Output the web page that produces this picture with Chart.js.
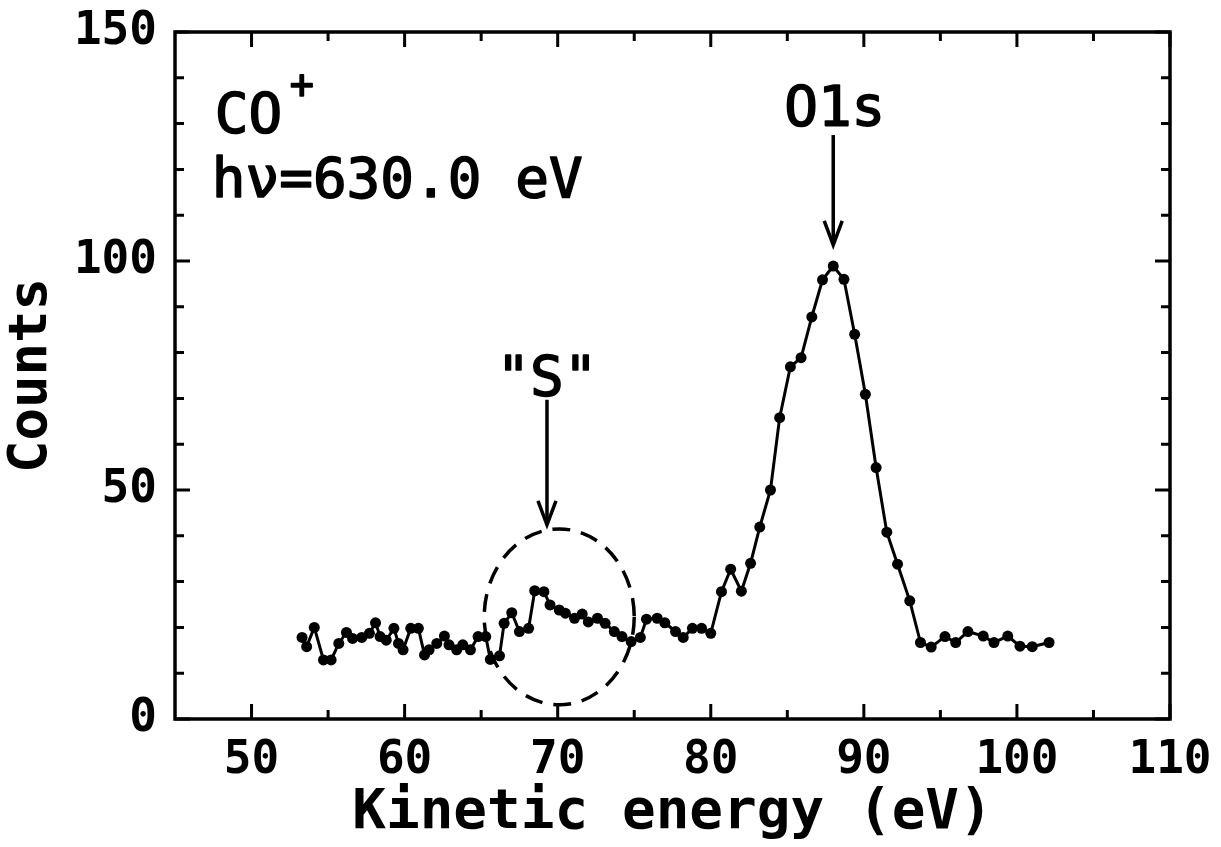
<!DOCTYPE html>
<html>
<head>
<meta charset="utf-8">
<script src="https://cdn.jsdelivr.net/npm/chart.js@4.4.0/dist/chart.umd.min.js"></script>
<style>
  html, body { margin: 0; padding: 0; background: #fff; }
</style>
</head>
<body>
<canvas id="spectrum" width="1221" height="847"></canvas>
<script>
// kinetic energy (eV) of each measured point
const energy = [53.3, 53.6, 54.1, 54.7, 55.2, 55.7, 56.2, 56.6, 57.2, 57.7, 58.1, 58.4, 58.8, 59.3, 59.6, 59.9,
  60.4, 60.9, 61.3, 61.6, 62.1, 62.6, 62.9, 63.4, 63.8, 64.3, 64.8, 65.3, 65.6, 66.2, 66.5, 67.0, 67.5, 68.1,
  68.5, 69.1, 69.5, 70.1, 70.5, 71.1, 71.6, 72.0, 72.6, 73.1, 73.7, 74.2, 74.8, 75.4, 75.8, 76.5, 77.0, 77.7,
  78.2, 78.8, 79.4, 80.0, 80.7, 81.3, 82.0, 82.6, 83.2, 83.9, 84.5, 85.2, 85.9, 86.6, 87.3, 88.0, 88.7, 89.4,
  90.1, 90.8, 91.5, 92.2, 93.0, 93.7, 94.4, 95.3, 96.0, 96.8, 97.8, 98.5, 99.4, 100.2, 101.0, 102.1];

// counts at each point
const counts = [17.8, 15.8, 20.0, 12.9, 12.9, 16.5, 18.9, 17.6, 17.8, 18.7, 21.0, 18.0, 17.2, 19.8, 16.5, 15.1,
  19.8, 19.8, 14.0, 15.1, 16.5, 18.1, 16.2, 15.1, 16.2, 15.1, 18.0, 18.0, 13.0, 13.8, 20.9, 23.2, 19.1, 19.8,
  28.0, 27.8, 24.9, 23.8, 23.1, 22.0, 22.9, 21.2, 22.0, 20.9, 19.1, 18.0, 16.9, 17.8, 21.8, 22.0, 21.0, 19.1,
  17.8, 19.8, 19.8, 18.7, 27.8, 32.7, 27.9, 34.0, 41.9, 50.0, 65.8, 76.9, 78.9, 87.8, 95.9, 98.9, 96.0, 84.0,
  70.9, 54.9, 40.8, 33.8, 25.8, 16.7, 15.7, 18.0, 16.7, 19.1, 18.1, 16.7, 18.1, 15.9, 15.8, 16.7];

const xTickLabels = [50, 60, 70, 80, 90, 100, 110];
const xMinorTicks = [55, 65, 75, 85, 95, 105];
const yTickLabels = [0, 50, 100, 150];
const yMinorTicks = [10, 20, 30, 40, 60, 70, 80, 90, 110, 120, 130, 140];

const FONT = "'DejaVu Sans Mono', 'Liberation Mono', monospace";

// frame, inward ticks, dashed ring round the "S" feature, arrows and labels
const framePlugin = {
  id: 'framePlugin',
  afterDatasetsDraw(chart) {
    const ctx = chart.ctx;
    const a = chart.chartArea;
    const x = chart.scales.x, y = chart.scales.y;
    ctx.save();
    ctx.strokeStyle = '#000';
    ctx.fillStyle = '#000';
    ctx.lineWidth = 3.5;
    ctx.strokeRect(a.left, a.top, a.right - a.left, a.bottom - a.top);

    ctx.lineWidth = 3;
    ctx.beginPath();
    function xTick(v, len) {
      const px = x.getPixelForValue(v);
      ctx.moveTo(px, a.bottom); ctx.lineTo(px, a.bottom - len);
      ctx.moveTo(px, a.top); ctx.lineTo(px, a.top + len);
    }
    function yTick(v, len) {
      const py = y.getPixelForValue(v);
      ctx.moveTo(a.left, py); ctx.lineTo(a.left + len, py);
      ctx.moveTo(a.right, py); ctx.lineTo(a.right - len, py);
    }
    xTickLabels.forEach(v => xTick(v, 15));
    xMinorTicks.forEach(v => xTick(v, 9));
    yTickLabels.forEach(v => yTick(v, 15));
    yMinorTicks.forEach(v => yTick(v, 9));
    ctx.stroke();

    // dashed ellipse
    const cx = x.getPixelForValue(70.1), cy = y.getPixelForValue(22.3);
    const rx = x.getPixelForValue(75.0) - cx, ry = cy - y.getPixelForValue(41.5);
    ctx.setLineDash([18, 11]);
    ctx.lineWidth = 3.5;
    ctx.beginPath();
    ctx.ellipse(cx, cy, rx, ry, 0, 0, Math.PI * 2);
    ctx.stroke();
    ctx.setLineDash([]);

    function arrow(xv, y0, y1) {
      const px = x.getPixelForValue(xv);
      const p0 = y.getPixelForValue(y0), p1 = y.getPixelForValue(y1);
      ctx.lineWidth = 3.5;
      ctx.beginPath();
      ctx.moveTo(px, p0); ctx.lineTo(px, p1 - 4);
      ctx.stroke();
      ctx.beginPath();
      ctx.moveTo(px - 9, p1 - 24); ctx.lineTo(px, p1); ctx.lineTo(px + 9, p1 - 24);
      ctx.stroke();
    }
    arrow(88.0, 127.5, 103.5);
    arrow(69.3, 69.7, 42.4);

    // labels: regular weight with a thin outline to get the plotter pen thickness
    function label(txt, px, py) {
      ctx.fillText(txt, px, py);
      ctx.strokeText(txt, px, py);
    }
    ctx.lineWidth = 1.6;
    ctx.lineJoin = 'round';
    ctx.textBaseline = 'alphabetic';
    ctx.font = '56px ' + FONT;
    ctx.textAlign = 'left';
    label('CO', x.getPixelForValue(47.6), y.getPixelForValue(128.2));
    label('h\u03bd=630.0 eV', x.getPixelForValue(47.4), y.getPixelForValue(114.0));
    ctx.font = '40px ' + FONT;
    label('+', x.getPixelForValue(52.5), y.getPixelForValue(135.5));
    ctx.textAlign = 'center';
    ctx.font = '56px ' + FONT;
    label('O1s', x.getPixelForValue(88.1), y.getPixelForValue(129.7));
    label('"S"', x.getPixelForValue(69.3), y.getPixelForValue(70.7));
    ctx.restore();
  }
};

const ctx = document.getElementById('spectrum').getContext('2d');
new Chart(ctx, {
  type: 'line',
  data: {
    datasets: [{
      data: energy.map((e, i) => ({ x: e, y: counts[i] })),
      borderColor: '#000',
      backgroundColor: '#000',
      borderWidth: 3,
      pointRadius: 5.5,
      pointBorderWidth: 0,
      pointBackgroundColor: '#000',
      tension: 0,
      fill: false
    }]
  },
  options: {
    responsive: false,
    animation: false,
    layout: { padding: { top: 32, right: 51, left: 0, bottom: 0 } },
    plugins: { legend: { display: false }, tooltip: { enabled: false } },
    scales: {
      x: {
        type: 'linear',
        min: 45,
        max: 110,
        afterBuildTicks: s => { s.ticks = xTickLabels.map(v => ({ value: v })); },
        afterFit: s => { s.height = 128; s.paddingLeft = 0; s.paddingRight = 0; },
        grid: { display: false, drawTicks: false },
        border: { display: false },
        ticks: { color: '#000', padding: 14, maxRotation: 0, font: { family: FONT, size: 46, weight: 'bold' } },
        title: {
          display: true,
          text: 'Kinetic energy (eV)',
          color: '#000',
          padding: { top: 0, bottom: 0 },
          font: { family: FONT, size: 56, weight: 'bold' }
        }
      },
      y: {
        min: 0,
        max: 150,
        afterBuildTicks: s => { s.ticks = yTickLabels.map(v => ({ value: v })); },
        afterFit: s => { s.width = 175; s.paddingTop = 0; s.paddingBottom = 0; },
        grid: { display: false, drawTicks: false },
        border: { display: false },
        ticks: { color: '#000', padding: 18, font: { family: FONT, size: 46, weight: 'bold' } },
        title: {
          display: true,
          text: 'Counts',
          color: '#000',
          padding: { top: 0, bottom: 0 },
          font: { family: FONT, size: 54, weight: 'bold' }
        }
      }
    }
  },
  plugins: [framePlugin]
});
</script>
</body>
</html>
